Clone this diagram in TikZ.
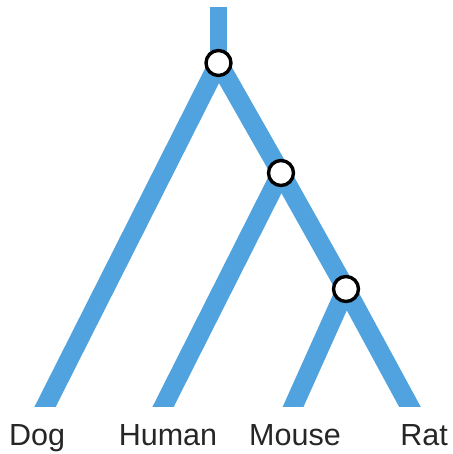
\documentclass[tikz,border=0pt]{standalone}
\usepackage{fontspec}
\setmainfont{Liberation Sans}
\usetikzlibrary{calc}
\definecolor{branchblue}{RGB}{80,163,222}
\begin{document}
\begin{tikzpicture}[x=1pt,y=1pt,
  branch/.style={draw=branchblue,line width=19pt,line cap=butt},
  trunk/.style={draw=branchblue,line width=16.5pt,line cap=butt},
  split/.style={circle,draw=black,fill=white,line width=3.4pt,minimum size=25pt,inner sep=0pt},
  leaf/.style={anchor=base,font=\fontsize{30.5}{36}\selectfont,text=black!85}]
\useasboundingbox (0,0) rectangle (452,454);
% tree geometry
\coordinate (root) at (218.5,447);
\coordinate (n1c) at (218.5,391);
\coordinate (n2c) at (281,281);
\coordinate (n3c) at (346,165);
\coordinate (dog) at (45,47);
\coordinate (human) at (163,47);
\coordinate (mouse) at (293,47);
\coordinate (rat) at (410,47);
% branches, cut flat at the leaf line
\begin{scope}
\clip (0,47) rectangle (452,447);
\draw[trunk] (root) -- (n1c);
\draw[branch] (n1c) -- ($(n1c)!1.1!(dog)$);
\draw[branch] (n1c) -- (n2c) -- (n3c) -- ($(n3c)!1.2!(rat)$);
\draw[branch] (n2c) -- ($(n2c)!1.1!(human)$);
\draw[branch] (n3c) -- ($(n3c)!1.2!(mouse)$);
\end{scope}
% speciation nodes
\node[split] (n1) at (n1c) {};
\node[split] (n2) at (n2c) {};
\node[split] (n3) at (n3c) {};
% leaf labels
\node[leaf] (ldog) at (37,9) {Dog};
\node[leaf] (lhuman) at (168,9) {Human};
\node[leaf] (lmouse) at (295,9) {Mouse};
\node[leaf] (lrat) at (424,9) {Rat};
\end{tikzpicture}
\end{document}
